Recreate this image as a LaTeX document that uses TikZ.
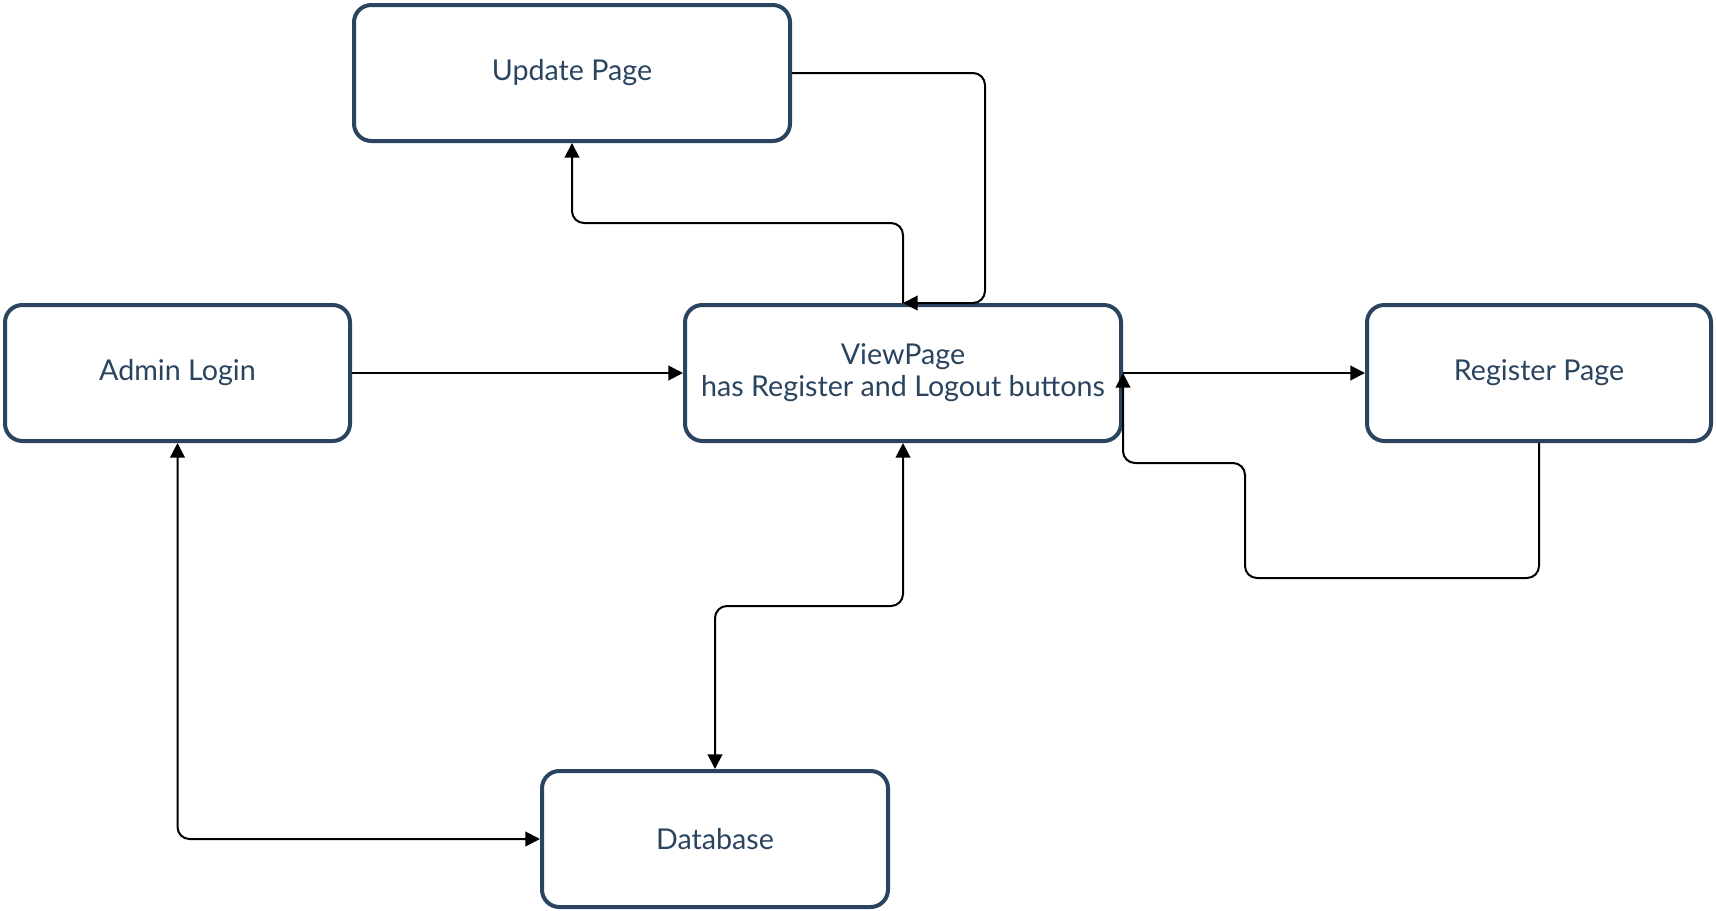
\documentclass[tikz,border=0pt]{standalone}
\usepackage{fontspec}
\setmainfont{Lato}
\usetikzlibrary{arrows.meta}
\definecolor{navy}{HTML}{2A4460}
\begin{document}
\begin{tikzpicture}[x=0.75pt,y=-0.75pt,
  box/.style={draw=navy,line width=3pt,rounded corners=13pt,text=navy,
    font=\fontsize{21.5pt}{24pt}\selectfont,align=center,inner sep=0pt},
  conn/.style={draw=black,line width=1.5pt,rounded corners=9pt,
    arrows={-Triangle[length=11pt,width=11pt]}},
  dconn/.style={conn,arrows={Triangle[length=11pt,width=11pt]-Triangle[length=11pt,width=11pt]}}]
\useasboundingbox (0,0) rectangle (1716,910);
\node[box,minimum width=436*0.75pt,minimum height=136*0.75pt] (upd) at (572,73) {Update Page};
\node[box,minimum width=345*0.75pt,minimum height=136*0.75pt] (adm) at (177.5,373) {Admin Login};
\node[box,minimum width=436*0.75pt,minimum height=136*0.75pt] (view) at (903,373) {ViewPage\\has Register and Logout buttons};
\node[box,minimum width=344*0.75pt,minimum height=136*0.75pt] (reg) at (1539,373) {Register Page};
\node[box,minimum width=346*0.75pt,minimum height=136*0.75pt] (db) at (715,839) {Database};
\coordinate (r1) at (1245,578);
\coordinate (r2) at (1245,463);
\coordinate (u1) at (572,223);
\coordinate (ux) at (985,0);
\coordinate (d1) at (715,606);
\draw[conn] (adm.east) -- (view.west);
\draw[conn] (view.east) -- (reg.west);
\draw[conn] (reg.south) |- (r1) -- (r2) -| (view.east);
\draw[conn] (view.north) |- (u1) -- (upd.south);
\draw[conn] (upd.east) -| (ux |- view.north) -- (view.north);
\draw[dconn] (view.south) |- (d1) -- (db.north);
\draw[dconn] (adm.south) |- (db.west);
\end{tikzpicture}
\end{document}
